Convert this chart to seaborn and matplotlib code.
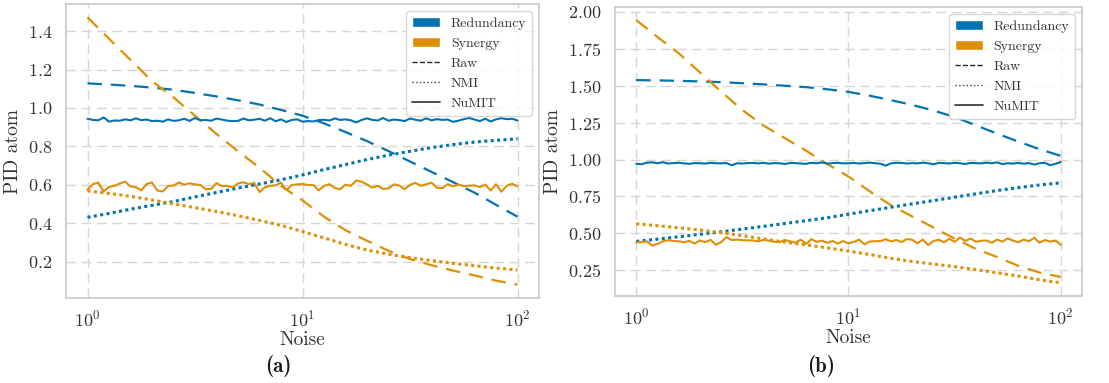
import matplotlib
matplotlib.use("Agg")
import pandas as pd
import matplotlib.pyplot as plt
from matplotlib.lines import Line2D
from matplotlib.patches import Patch
import seaborn as sns

# noise levels (fine grid for NuMIT, every 4th point for the smooth curves)
NOISE_FINE = [
    1.000, 1.059, 1.122, 1.189, 1.259, 1.334, 1.413, 1.496, 1.585, 1.679,
    1.778, 1.884, 1.995, 2.113, 2.239, 2.371, 2.512, 2.661, 2.818, 2.985,
    3.162, 3.350, 3.548, 3.758, 3.981, 4.217, 4.467, 4.732, 5.012, 5.309,
    5.623, 5.957, 6.310, 6.683, 7.079, 7.499, 7.943, 8.414, 8.913, 9.441,
    10.00, 10.59, 11.22, 11.89, 12.59, 13.34, 14.13, 14.96, 15.85, 16.79,
    17.78, 18.84, 19.95, 21.13, 22.39, 23.71, 25.12, 26.61, 28.18, 29.85,
    31.62, 33.50, 35.48, 37.58, 39.81, 42.17, 44.67, 47.32, 50.12, 53.09,
    56.23, 59.57, 63.10, 66.83, 70.79, 74.99, 79.43, 84.14, 89.13, 94.41,
    100.0,
]
NOISE = NOISE_FINE[::4]

# ---- panel (a) ----
A_RAW_RED = [1.128, 1.122, 1.115, 1.106, 1.095, 1.078, 1.060, 1.040, 1.018, 0.990,
             0.960, 0.920, 0.875, 0.828, 0.776, 0.722, 0.668, 0.615, 0.560, 0.497, 0.435]
A_RAW_SYN = [1.471, 1.360, 1.250, 1.140, 1.055, 0.960, 0.865, 0.775, 0.690, 0.595,
             0.520, 0.435, 0.365, 0.310, 0.258, 0.215, 0.183, 0.155, 0.130, 0.103, 0.082]
A_NMI_RED = [0.432, 0.452, 0.474, 0.494, 0.514, 0.538, 0.561, 0.584, 0.605, 0.627,
             0.652, 0.680, 0.706, 0.732, 0.755, 0.775, 0.794, 0.810, 0.823, 0.832, 0.840]
A_NMI_SYN = [0.569, 0.556, 0.541, 0.522, 0.502, 0.482, 0.462, 0.440, 0.416, 0.390,
             0.358, 0.325, 0.291, 0.262, 0.240, 0.222, 0.207, 0.193, 0.180, 0.168, 0.158]
A_NUMIT_RED = [
    0.944, 0.938, 0.936, 0.951, 0.929, 0.935, 0.934, 0.941, 0.936, 0.946,
    0.937, 0.940, 0.932, 0.934, 0.929, 0.941, 0.933, 0.936, 0.944, 0.933,
    0.948, 0.936, 0.938, 0.934, 0.945, 0.940, 0.934, 0.932, 0.933, 0.945,
    0.936, 0.939, 0.944, 0.934, 0.947, 0.931, 0.941, 0.927, 0.938, 0.941,
    0.929, 0.932, 0.930, 0.937, 0.939, 0.935, 0.946, 0.938, 0.941, 0.936,
    0.925, 0.938, 0.946, 0.938, 0.935, 0.948, 0.934, 0.940, 0.937, 0.932,
    0.945, 0.939, 0.934, 0.946, 0.936, 0.942, 0.938, 0.940, 0.928, 0.934,
    0.942, 0.948, 0.940, 0.932, 0.944, 0.930, 0.941, 0.947, 0.942, 0.944,
    0.935,
]
A_NUMIT_SYN = [
    0.575, 0.604, 0.612, 0.566, 0.590, 0.595, 0.608, 0.617, 0.592, 0.588,
    0.572, 0.605, 0.613, 0.571, 0.566, 0.595, 0.597, 0.613, 0.601, 0.609,
    0.603, 0.600, 0.578, 0.579, 0.610, 0.594, 0.595, 0.588, 0.608, 0.614,
    0.604, 0.611, 0.563, 0.588, 0.596, 0.598, 0.612, 0.573, 0.600, 0.603,
    0.605, 0.600, 0.600, 0.572, 0.595, 0.604, 0.584, 0.578, 0.601, 0.596,
    0.623, 0.617, 0.603, 0.586, 0.596, 0.579, 0.582, 0.603, 0.597, 0.578,
    0.600, 0.611, 0.596, 0.603, 0.612, 0.586, 0.583, 0.604, 0.593, 0.602,
    0.594, 0.596, 0.598, 0.589, 0.602, 0.571, 0.604, 0.565, 0.596, 0.606,
    0.593,
]

# ---- panel (b) ----
B_RAW_RED = [1.538, 1.536, 1.533, 1.529, 1.524, 1.517, 1.509, 1.500, 1.490, 1.476,
             1.458, 1.432, 1.402, 1.370, 1.332, 1.288, 1.232, 1.175, 1.122, 1.070, 1.025]
B_RAW_SYN = [1.944, 1.830, 1.720, 1.590, 1.460, 1.335, 1.230, 1.145, 1.060, 0.970,
             0.885, 0.785, 0.690, 0.615, 0.540, 0.465, 0.395, 0.340, 0.280, 0.235, 0.205]
B_NMI_RED = [0.446, 0.461, 0.477, 0.494, 0.511, 0.529, 0.548, 0.567, 0.586, 0.606,
             0.630, 0.654, 0.677, 0.700, 0.722, 0.745, 0.768, 0.790, 0.810, 0.828, 0.842]
B_NMI_SYN = [0.565, 0.552, 0.538, 0.523, 0.505, 0.485, 0.462, 0.441, 0.422, 0.402,
             0.380, 0.357, 0.331, 0.310, 0.292, 0.275, 0.255, 0.233, 0.211, 0.186, 0.165]
B_NUMIT_RED = [
    0.972, 0.968, 0.979, 0.981, 0.975, 0.982, 0.973, 0.976, 0.978, 0.974,
    0.971, 0.976, 0.975, 0.973, 0.978, 0.975, 0.974, 0.977, 0.961, 0.975,
    0.973, 0.976, 0.977, 0.974, 0.978, 0.972, 0.976, 0.975, 0.970, 0.977,
    0.976, 0.973, 0.971, 0.978, 0.975, 0.980, 0.972, 0.976, 0.978, 0.974,
    0.975, 0.977, 0.973, 0.976, 0.979, 0.975, 0.972, 0.959, 0.974, 0.978,
    0.977, 0.973, 0.976, 0.974, 0.979, 0.975, 0.968, 0.977, 0.976, 0.973,
    0.978, 0.975, 0.970, 0.977, 0.976, 0.974, 0.979, 0.975, 0.981, 0.969,
    0.975, 0.973, 0.977, 0.972, 0.976, 0.966, 0.975, 0.978, 0.962, 0.971,
    0.983,
]
B_NUMIT_SYN = [
    0.438, 0.441, 0.446, 0.418, 0.428, 0.446, 0.454, 0.449, 0.446, 0.440,
    0.449, 0.432, 0.452, 0.440, 0.456, 0.423, 0.441, 0.475, 0.455, 0.458,
    0.454, 0.453, 0.452, 0.446, 0.456, 0.451, 0.443, 0.441, 0.455, 0.446,
    0.438, 0.457, 0.429, 0.461, 0.443, 0.451, 0.436, 0.449, 0.431, 0.448,
    0.433, 0.442, 0.458, 0.426, 0.445, 0.447, 0.447, 0.461, 0.446, 0.455,
    0.442, 0.461, 0.457, 0.433, 0.458, 0.421, 0.448, 0.457, 0.440, 0.463,
    0.443, 0.472, 0.449, 0.465, 0.444, 0.450, 0.452, 0.436, 0.458, 0.445,
    0.466, 0.451, 0.440, 0.458, 0.447, 0.470, 0.437, 0.455, 0.444, 0.452,
    0.423,
]

ATOMS = ["Redundancy", "Synergy"]
METHODS = ["Raw", "NMI", "NuMIT"]
COLORS = {"Redundancy": "#0173B2", "Synergy": "#DE8F05"}
LINESTYLE = {"Raw": (0, (6.5, 4)), "NMI": (0, (1, 1.1)), "NuMIT": "-"}
LINEWIDTH = {"Raw": 1.6, "NMI": 2.2, "NuMIT": 1.5}


def panel_frame(raw_red, raw_syn, nmi_red, nmi_syn, numit_red, numit_syn):
    series = [
        ("Redundancy", "Raw", NOISE, raw_red),
        ("Synergy", "Raw", NOISE, raw_syn),
        ("Redundancy", "NMI", NOISE, nmi_red),
        ("Synergy", "NMI", NOISE, nmi_syn),
        ("Redundancy", "NuMIT", NOISE_FINE, numit_red),
        ("Synergy", "NuMIT", NOISE_FINE, numit_syn),
    ]
    parts = [pd.DataFrame({"Noise": x, "PID atom": y, "atom": a, "method": m})
             for a, m, x, y in series]
    return pd.concat(parts, ignore_index=True)


sns.set_theme(style="whitegrid")
plt.rcParams["font.family"] = ["cmr10", "DejaVu Serif"]
plt.rcParams["mathtext.fontset"] = "cm"
plt.rcParams["axes.formatter.use_mathtext"] = True
plt.rcParams["axes.unicode_minus"] = False

fig = plt.figure(figsize=(11.09, 3.83), dpi=100)
ax_a = fig.add_axes([66 / 1109, 1 - 298 / 383, 473 / 1109, 294 / 383])
ax_b = fig.add_axes([615 / 1109, 1 - 296 / 383, 467 / 1109, 289 / 383])

frames = [
    panel_frame(A_RAW_RED, A_RAW_SYN, A_NMI_RED, A_NMI_SYN, A_NUMIT_RED, A_NUMIT_SYN),
    panel_frame(B_RAW_RED, B_RAW_SYN, B_NMI_RED, B_NMI_SYN, B_NUMIT_RED, B_NUMIT_SYN),
]

legend_handles = [
    Patch(facecolor=COLORS["Redundancy"], label="Redundancy"),
    Patch(facecolor=COLORS["Synergy"], label="Synergy"),
    Line2D([], [], color="0.15", ls="--", lw=1.0, label="Raw"),
    Line2D([], [], color="0.25", ls=":", lw=1.0, label="NMI"),
    Line2D([], [], color="0.25", ls="-", lw=1.3, label="NuMIT"),
]

for ax, df in zip([ax_a, ax_b], frames):
    for method in METHODS:
        sns.lineplot(data=df[df["method"] == method], x="Noise", y="PID atom",
                     hue="atom", hue_order=ATOMS, palette=COLORS,
                     estimator=None, linewidth=LINEWIDTH[method],
                     linestyle=LINESTYLE[method], legend=False, ax=ax)
    ax.set_xscale("log")
    ax.grid(True, which="major", ls=(0, (7, 4)), lw=1.0, color="#d6d6d6")
    ax.grid(False, which="minor")
    for sp in ax.spines.values():
        sp.set_color("#cccccc")
        sp.set_linewidth(1.3)
    ax.tick_params(labelsize=13, colors="0.2")
    ax.tick_params(axis="x", pad=2)
    ax.tick_params(axis="y", pad=4)
    ax.set_xlabel("Noise", fontsize=14, color="0.2", labelpad=1)
    ax.set_ylabel("PID atom", fontsize=14, color="0.2", labelpad=4)
    leg = ax.legend(handles=legend_handles, loc="upper right", fontsize=10,
                    handleheight=0.8, frameon=True, facecolor="white",
                    framealpha=0.85, edgecolor="#d0d0d0")
    for t in leg.get_texts():
        t.set_color("0.2")

fig.text(278 / 1109, 1 - 366 / 383, "(a)", ha="center", va="center",
         fontfamily="cmb10", fontsize=15, color="0.1")
fig.text(821 / 1109, 1 - 366 / 383, "(b)", ha="center", va="center",
         fontfamily="cmb10", fontsize=15, color="0.1")

fig.savefig("out.png", dpi=100)
